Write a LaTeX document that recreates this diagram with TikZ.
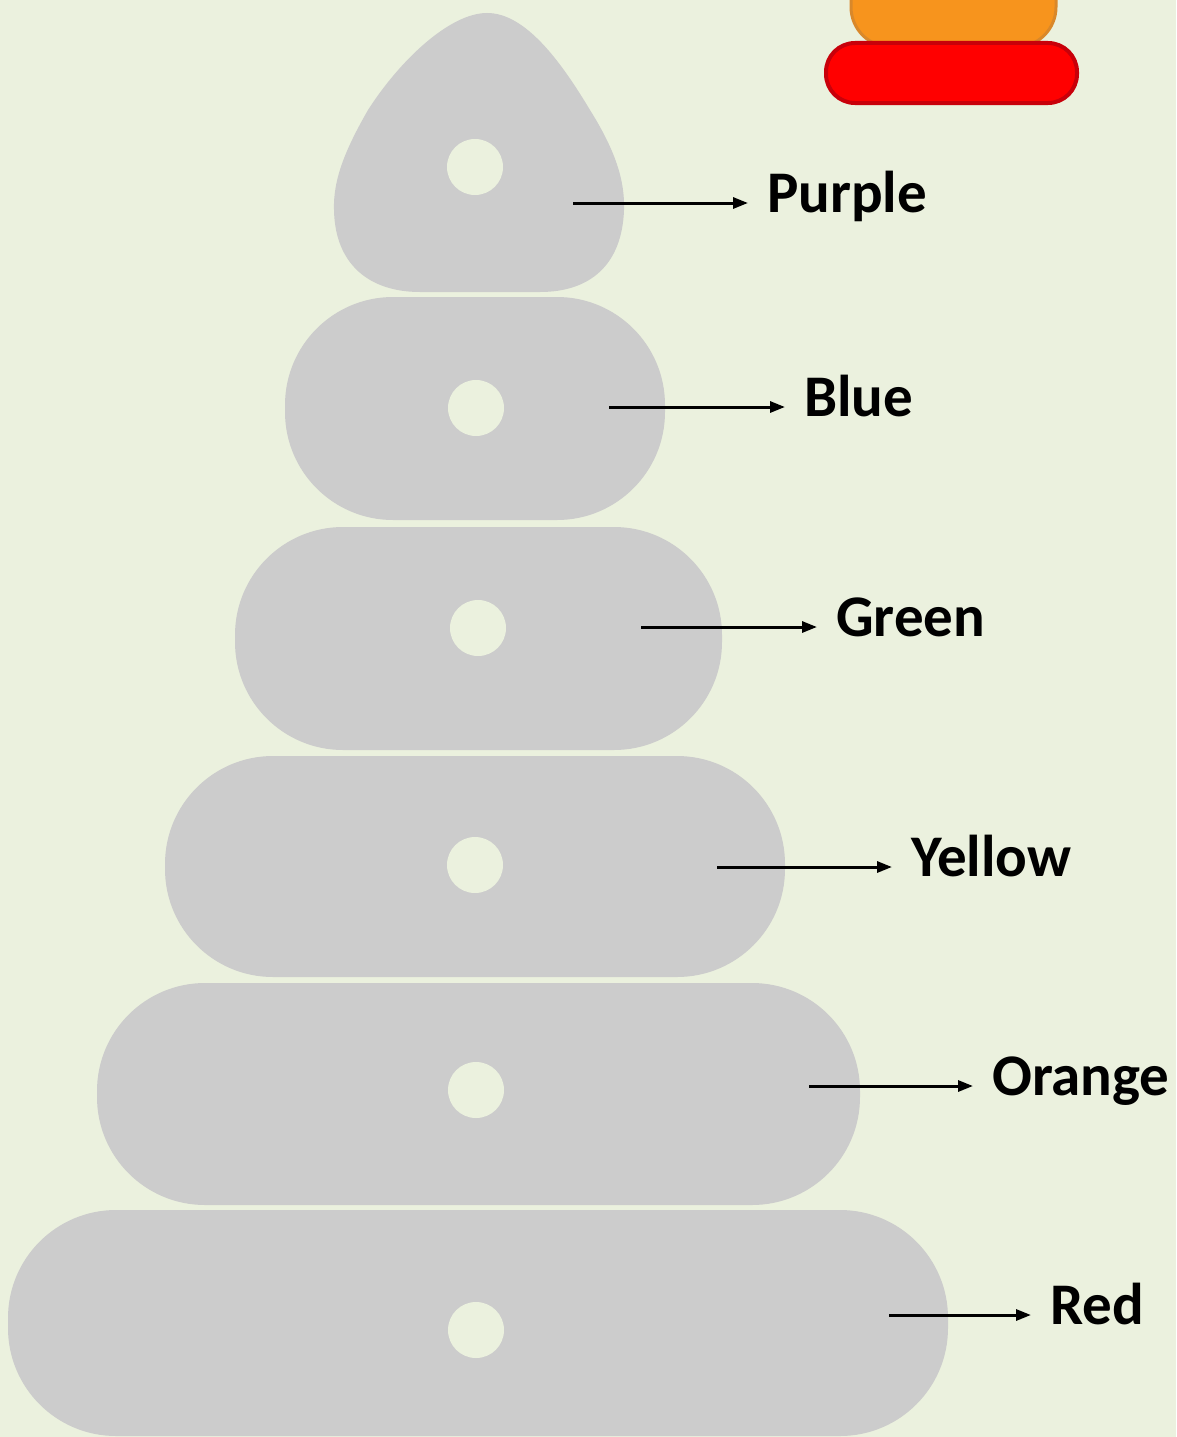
\documentclass[tikz,border=0pt]{standalone}
\usepackage{fontspec}
\setmainfont{Carlito}
\usetikzlibrary{arrows.meta}
\definecolor{bg}{HTML}{EBF1DE}
\definecolor{disk}{HTML}{CCCCCC}
\definecolor{orng}{HTML}{F7941D}
\definecolor{orngdk}{HTML}{D9882A}
\definecolor{rd}{HTML}{FF0000}
\definecolor{rddk}{HTML}{C8000A}
\tikzset{
  ring/.style={fill=disk, rounded corners=108},
  hole/.style={fill=bg},
  lbl/.style={anchor=base west, inner sep=0pt, font=\bfseries\fontsize{59}{63}\selectfont},
  arr/.style={line width=3pt, -{Triangle[length=15pt,width=11pt]}, shorten >=19pt}
}
\begin{document}
\begin{tikzpicture}[x=1pt,y=-1pt]
\fill[bg] (0,0) rectangle (1176,1437);
\useasboundingbox (0,0) rectangle (1176,1437);
\clip (0,0) rectangle (1176,1437);

% top-right rings
\filldraw[fill=orng, draw=orngdk, line width=3pt, rounded corners=40] (851,-40) rectangle (1056,47);
\filldraw[fill=rd, draw=rddk, line width=4pt, rounded corners=29] (826,43) rectangle (1077,103);

% purple (rounded triangle)
\fill[disk] (487,13) .. controls (525,13) and (560,60) .. (590,110)
  .. controls (615,150) and (625,180) .. (624,210)
  .. controls (622,265) and (590,292) .. (540,292)
  -- (420,292)
  .. controls (370,292) and (335,265) .. (334,210)
  .. controls (333,180) and (345,150) .. (368,110)
  .. controls (400,60) and (450,13) .. (487,13) -- cycle;
\fill[hole] (475,167) circle[radius=28];

% blue
\fill[ring] (285,297) rectangle (665,520);
\fill[hole] (476,408) circle[radius=28];
% green
\fill[ring] (235,527) rectangle (722,750);
\fill[hole] (478,628) circle[radius=28];
% yellow
\fill[ring] (165,756) rectangle (785,977);
\fill[hole] (475,865) circle[radius=28];
% orange
\fill[ring] (97,983) rectangle (860,1205);
\fill[hole] (476,1090) circle[radius=28];
% red
\fill[ring] (8,1210) rectangle (948,1436);
\fill[hole] (476,1330) circle[radius=28];

% labels
\node[lbl] (lp) at (767,212) {Purple};
\node[lbl] (lb) at (804,416) {Blue};
\node[lbl] (lg) at (836,636) {Green};
\node[lbl] (ly) at (911,876) {Yellow};
\node[lbl] (lo) at (992,1095) {Orange};
\node[lbl] (lr) at (1050,1324) {Red};

\coordinate (sp) at (573,203);
\coordinate (sb) at (609,407);
\coordinate (sg) at (641,627);
\coordinate (sy) at (717,867);
\coordinate (so) at (809,1086);
\coordinate (sr) at (889,1315);

\draw[arr] (sp) -- (sp -| lp.west);
\draw[arr] (sb) -- (sb -| lb.west);
\draw[arr] (sg) -- (sg -| lg.west);
\draw[arr] (sy) -- (sy -| ly.west);
\draw[arr] (so) -- (so -| lo.west);
\draw[arr] (sr) -- (sr -| lr.west);
\end{tikzpicture}
\end{document}
